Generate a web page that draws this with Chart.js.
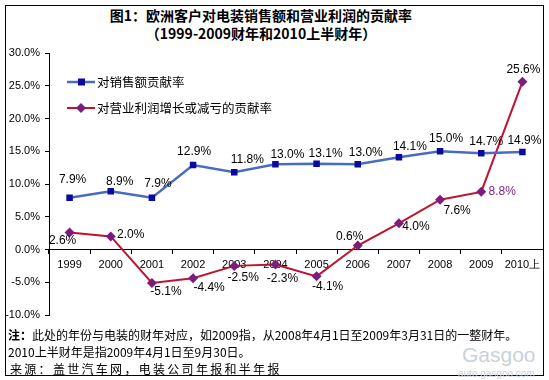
<!DOCTYPE html>
<html>
<head>
<meta charset="utf-8">
<script src="https://cdn.jsdelivr.net/npm/chart.js@4.4.1/dist/chart.umd.min.js"></script>
<style>
    body { margin: 0; background: #fff; }
    #wrap { position: relative; width: 549px; height: 380px; overflow: hidden; font-family: "Noto Sans CJK SC", sans-serif; }
    #frame { position: absolute; left: 5px; top: 5px; width: 537px; height: 369px; border: 1px solid #000; }
    #chart { position: absolute; left: 0; top: 0; }
    .title { position: absolute; left: 0; width: 522px; text-align: center; font-weight: bold; font-size: 14px; color: #000; line-height: 16px; }
    .note { position: absolute; left: 8px; font-size: 12px; color: #000; line-height: 14px; white-space: nowrap; }
    .mark { position: absolute; color: #c9d1da; font-family: "Liberation Sans", sans-serif; white-space: nowrap; }
</style>
</head>
<body>
<div id="wrap">
    <div id="frame"></div>
    <div class="title" style="top:7px;">图1：欧洲客户对电装销售额和营业利润的贡献率</div>
    <div class="title" style="top:25px;">（1999-2009财年和2010上半财年）</div>
    <div class="mark" style="left:462px; top:343px; font-size:21px;">Gasgoo</div>
    <div class="mark" style="left:458px; top:368px; font-size:10px;">auto.gasgoo.com</div>
    <canvas id="chart" width="549" height="380"></canvas>
    <div class="note" style="top:328px;"><b>注：</b>此处的年份与电装的财年对应，如2009指，从2008年4月1日至2009年3月31日的一整财年。</div>
    <div class="note" style="top:345px;">2010上半财年是指2009年4月1日至9月30日。</div>
    <div class="note" style="top:362px; left:10px; letter-spacing:2.3px;">来源：盖世汽车网，电装公司年报和半年报</div>
</div>
<script>
    "use strict";

    // Data
    var years = ["1999", "2000", "2001", "2002", "2003", "2004", "2005", "2006", "2007", "2008", "2009", "2010上"];
    var salesShare = [7.9, 8.9, 7.9, 12.9, 11.8, 13.0, 13.1, 13.0, 14.1, 15.0, 14.7, 14.9];
    var profitShare = [2.6, 2.0, -5.1, -4.4, -2.5, -2.3, -4.1, 0.6, 4.0, 7.6, 8.8, 25.6];
    var seriesNames = ["对销售额贡献率", "对营业利润增长或减亏的贡献率"];
    var yTicks = [-10, -5, 0, 5, 10, 15, 20, 25, 30];

    // label placement (dx, dy from the point)
    var salesLabelPos = [[3, -18], [9, -10], [6, -14], [1, -13], [13, -13], [12, -10], [9, -10], [8, -12], [11, -10], [6, -13], [5, -12], [2, -11]];
    var profitLabelPos = [[-7, 8], [20, -2], [14, 9], [16, 9], [9, 12], [7, 14], [11, 10], [-8, -9], [17, 3], [17, 11], [21, 0], [1, -12]];

    var blueLine = "#4a6cc0";
    var blueMark = "#0a0a9e";
    var redLine = "#c0122e";
    var purpleMark = "#7d1c7d";
    var labelFont = "12px 'Liberation Sans', Arial, sans-serif";

    // Value labels
    var valueLabels = {
        id: "valueLabels",
        afterDatasetsDraw: function (chart) {
            var ctx = chart.ctx;
            var sets = [[salesShare, salesLabelPos], [profitShare, profitLabelPos]];
            ctx.save();
            ctx.font = labelFont;
            ctx.textAlign = "center";
            ctx.textBaseline = "middle";
            sets.forEach(function (s, di) {
                var meta = chart.getDatasetMeta(di);
                meta.data.forEach(function (pt, i) {
                    ctx.fillStyle = (di === 1 && i === 10) ? purpleMark : "#000";
                    ctx.fillText(s[0][i].toFixed(1) + "%", pt.x + s[1][i][0], pt.y + s[1][i][1]);
                });
            });
            ctx.restore();
        }
    };

    // Legend inside the plot
    var innerLegend = {
        id: "innerLegend",
        afterDraw: function (chart) {
            var ctx = chart.ctx;
            var x0 = 67, x1 = 95, rows = [82, 108];
            ctx.save();
            // blue row
            ctx.strokeStyle = blueLine;
            ctx.lineWidth = 2.5;
            ctx.beginPath(); ctx.moveTo(x0, rows[0]); ctx.lineTo(x1, rows[0]); ctx.stroke();
            ctx.fillStyle = blueMark;
            ctx.fillRect(78, rows[0] - 3.5, 7, 7);
            // red row
            ctx.strokeStyle = redLine;
            ctx.lineWidth = 2;
            ctx.beginPath(); ctx.moveTo(x0, rows[1]); ctx.lineTo(x1, rows[1]); ctx.stroke();
            ctx.fillStyle = purpleMark;
            ctx.beginPath();
            ctx.moveTo(81, rows[1] - 5); ctx.lineTo(86, rows[1]); ctx.lineTo(81, rows[1] + 5); ctx.lineTo(76, rows[1]);
            ctx.closePath(); ctx.fill();
            ctx.fillStyle = "#000";
            ctx.font = "12.5px 'Noto Sans CJK SC', sans-serif";
            ctx.textBaseline = "middle";
            ctx.fillText(seriesNames[0], 97, rows[0]);
            ctx.fillText(seriesNames[1], 97, rows[1]);
            ctx.restore();
        }
    };

    var chart = new Chart(document.getElementById("chart").getContext("2d"), {
        type: "line",
        data: {
            labels: years,
            datasets: [{
                label: seriesNames[0],
                data: salesShare,
                borderColor: blueLine,
                borderWidth: 2.5,
                pointStyle: "rect",
                pointRadius: 4.6,
                pointBackgroundColor: blueMark,
                pointBorderColor: blueMark,
                pointBorderWidth: 0,
                tension: 0
            }, {
                label: seriesNames[1],
                data: profitShare,
                borderColor: redLine,
                borderWidth: 2,
                pointStyle: "rectRot",
                pointRadius: 5,
                pointBackgroundColor: purpleMark,
                pointBorderColor: purpleMark,
                pointBorderWidth: 0,
                tension: 0
            }]
        },
        options: {
            responsive: false,
            animation: false,
            devicePixelRatio: 1,
            layout: { padding: { top: 53, bottom: 65, left: 0, right: 6 } },
            plugins: {
                legend: { display: false },
                tooltip: { enabled: false },
                title: { display: false }
            },
            scales: {
                x: {
                    position: { y: 0 },
                    offset: true,
                    grid: { offset: true, drawOnChartArea: false, drawTicks: true, tickLength: 4, color: "#000" },
                    border: { display: true, color: "#000", width: 1 },
                    ticks: {
                        color: "#000",
                        padding: 5,
                        maxRotation: 0,
                        autoSkip: false,
                        font: { family: "'Liberation Sans', Arial, sans-serif", size: 11 }
                    },
                    afterFit: function (scale) { scale.height = 0; }
                },
                y: {
                    min: yTicks[0],
                    max: yTicks[yTicks.length - 1],
                    afterBuildTicks: function (scale) {
                        scale.ticks = yTicks.map(function (v) { return { value: v }; });
                    },
                    grid: { drawOnChartArea: false, drawTicks: true, tickLength: 4, color: "#000" },
                    border: { display: true, color: "#000", width: 1 },
                    ticks: {
                        color: "#000",
                        padding: 5,
                        font: { family: "'Liberation Sans', Arial, sans-serif", size: 11 },
                        callback: function (v) { return v.toFixed(1) + "%"; }
                    },
                    afterFit: function (scale) { scale.width = 49; }
                }
            }
        },
        plugins: [valueLabels, innerLegend]
    });
</script>
</body>
</html>
